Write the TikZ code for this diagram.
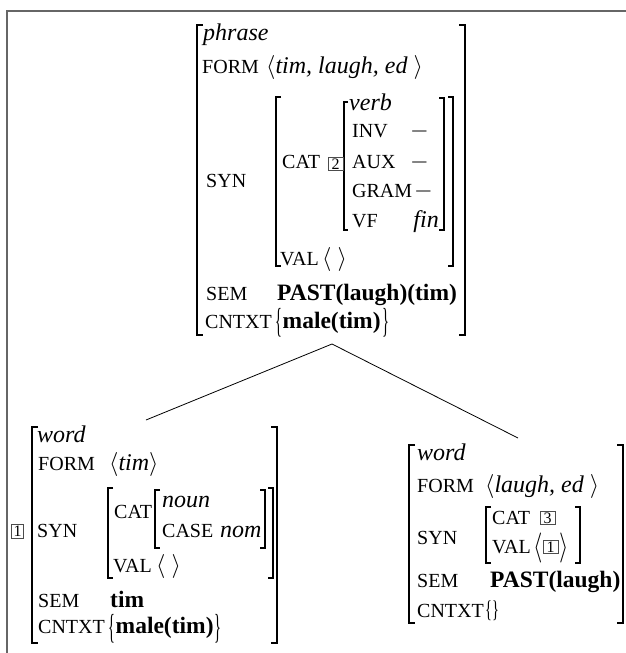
\RequirePackage{fix-cm}
\documentclass[tikz,border=0pt]{standalone}
\usepackage{fontspec}
\usepackage{graphicx}
\setmainfont{Liberation Serif}
\tikzset{
  txt/.style={anchor=base west, inner sep=0pt, font=\fontsize{24}{24}\selectfont},
  feat/.style={anchor=base west, inner sep=0pt, font=\fontsize{20}{20}\selectfont},
  bld/.style={anchor=base west, inner sep=0pt, font=\fontsize{23.5}{24}\selectfont\bfseries},
  delim/.style={anchor=west, inner sep=0pt, font=\fontsize{24}{24}\selectfont},
  brk/.style={line width=1.6pt, line cap=butt, line join=miter},
  tagbox/.style={draw=black!70, line width=0.7pt, inner sep=0pt, minimum width=15pt, minimum height=13pt, font=\fontsize{16}{16}\selectfont},
  framel/.style={draw=black!60, line width=2pt},
  branch/.style={line width=0.8pt},
}
\newcommand\LB[4][6]{\draw[brk] ({#2+#1},#3) -- (#2,#3) -- (#2,#4) -- ({#2+#1},#4);}
\newcommand\RB[4][6]{\draw[brk] ({#2-#1},#3) -- (#2,#3) -- (#2,#4) -- ({#2-#1},#4);}
\newcommand\bigbrL{\scalebox{0.6}[1.45]{\{}}
\newcommand\bigbrR{\scalebox{0.6}[1.45]{\}}}
\begin{document}
\begin{tikzpicture}[x=1pt,y=-1pt]
\useasboundingbox (0,0) rectangle (626,653);
% frame
\draw[framel] (7,653) -- (7,11) -- (626,11);

% ---------- top AVM ----------
\LB{197}{25}{335} \RB{465}{25}{335}
\LB[5]{276}{97}{266} \RB[5]{453}{97}{266}
\LB[4]{344}{102}{230} \RB[5]{444}{98}{230}
\node[txt] (t-phrase) at (203,40) {\itshape phrase};
\node[feat] (t-form) at (202,73) {FORM};
\node[txt] (t-formv) at (266,73) {$\langle$\itshape tim, laugh, ed $\rangle$};
\node[txt] (t-verb) at (349,110) {\itshape verb};
\node[feat] (t-inv) at (352,137) {INV};
\node[txt] (t-invv) at (410,137) {$-$};
\node[feat] (t-cat) at (282,168) {CAT};
\node[tagbox] (t-tag2) at (335.5,164) {2};
\node[feat] (t-aux) at (352,168) {AUX};
\node[txt] (t-auxv) at (410,168) {$-$};
\node[feat] (t-syn) at (206,187) {SYN};
\node[feat] (t-gram) at (352,197) {GRAM};
\node[txt] (t-gramv) at (414,197) {$-$};
\node[feat] (t-vf) at (352,227) {VF};
\node[txt, anchor=base east] (t-vfv) at (439,227) {\itshape fin};
\node[feat] (t-val) at (280,265) {VAL};
\node[txt] (t-valv) at (322,265) {$\langle$\hspace{6pt}$\rangle$};
\node[feat] (t-sem) at (206,300) {SEM};
\node[bld] (t-semv) at (277,300) {PAST(laugh)(tim)};
\node[feat] (t-cntxt) at (205,328) {CNTXT};
\node[delim] (t-bl) at (275,323) {\bigbrL};
\node[bld] (t-cntxtv) at (282.5,328) {male(tim)};
\node[delim] (t-br) at (382,323) {\bigbrR};

% ---------- left AVM ----------
\LB{32}{427}{643} \RB{277}{427}{643}
\LB[5]{108}{488}{578} \RB[5]{273}{488}{578}
\LB[5]{155}{490}{548} \RB[5]{265}{490}{548}
\node[tagbox, minimum width=12pt, minimum height=14pt] (l-tag1) at (17.5,531.5) {1};
\node[txt] (l-word) at (37,442) {\itshape word};
\node[feat] (l-form) at (38,470) {FORM};
\node[txt] (l-formv) at (109,470) {$\langle$\itshape tim$\rangle$};
\node[feat] (l-syn) at (37,537) {SYN};
\node[feat] (l-cat) at (114,518) {CAT};
\node[txt] (l-noun) at (162,507) {\itshape noun};
\node[feat] (l-case) at (162,537) {CASE};
\node[txt] (l-casev) at (220,537) {\itshape nom};
\node[feat] (l-val) at (113,572) {VAL};
\node[txt] (l-valv) at (156,572) {$\langle$\hspace{6pt}$\rangle$};
\node[feat] (l-sem) at (38,607) {SEM};
\node[bld] (l-semv) at (110,607) {tim};
\node[feat] (l-cntxt) at (38,633) {CNTXT};
\node[delim] (l-bl) at (108,629) {\bigbrL};
\node[bld] (l-cntxtv) at (115.5,633) {male(tim)};
\node[delim] (l-br) at (214,629) {\bigbrR};

% ---------- right AVM ----------
\LB{409}{445}{623} \RB{623}{445}{623}
\LB[5]{486}{507}{563} \RB[5]{580}{507}{563}
\node[txt] (r-word) at (417,460) {\itshape word};
\node[feat] (r-form) at (417,492) {FORM};
\node[txt] (r-formv) at (485,492) {$\langle$\itshape laugh, ed $\rangle$};
\node[feat] (r-syn) at (417,544) {SYN};
\node[feat] (r-cat) at (492,524) {CAT};
\node[tagbox] (r-tag3) at (547.5,518) {3};
\node[feat] (r-val) at (492,553) {VAL};
\node[delim] (r-al) at (533,548) {\scalebox{1}[1.25]{$\langle$}};
\node[tagbox] (r-tag1) at (550.5,547) {1};
\node[delim] (r-ar) at (559,548) {\scalebox{1}[1.25]{$\rangle$}};
\node[feat] (r-sem) at (417,587) {SEM};
\node[bld] (r-semv) at (490,587) {PAST(laugh)};
\node[feat] (r-cntxt) at (417,617) {CNTXT};
\node[txt] (r-cntxtv) at (485,617) {\scalebox{0.6}[1]{\{\}}};

% ---------- tree branches ----------
\coordinate (mother) at (332,344);
\coordinate (dtr1) at (146,420);
\coordinate (dtr2) at (518,438);
\draw[branch] (mother) -- (dtr1);
\draw[branch] (mother) -- (dtr2);
\end{tikzpicture}
\end{document}
